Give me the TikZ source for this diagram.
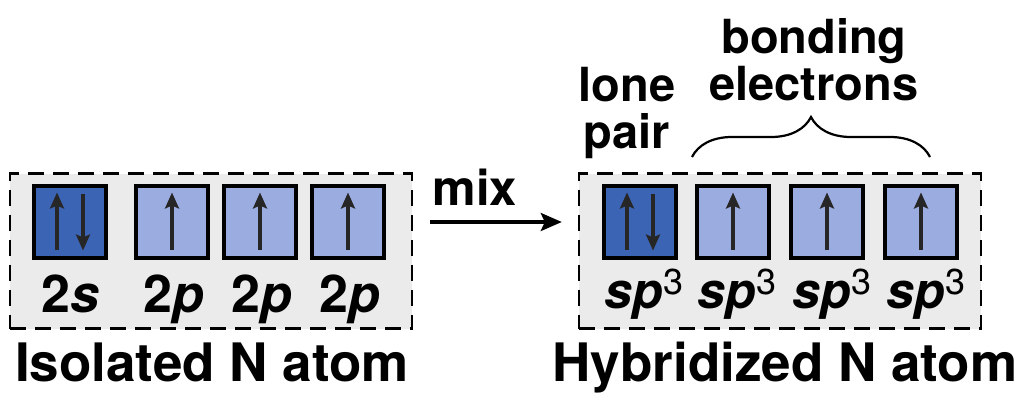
\documentclass[tikz,border=0pt]{standalone}
\usepackage{fontspec}
\setmainfont{TeX Gyre Heros}
\usetikzlibrary{arrows.meta,decorations.pathreplacing}

\definecolor{pairblue}{HTML}{3C64B4}
\definecolor{singleblue}{HTML}{9BACE0}
\definecolor{panelgray}{HTML}{EBEBEB}

\newcommand{\sphyb}{\textit{sp}\raisebox{14pt}{\fontsize{36}{36}\selectfont\mdseries\upshape 3}}

\begin{document}
\begin{tikzpicture}[x=1pt, y=-1pt
        , every node/.style={inner sep=0pt}
        , panel/.style={draw, dash pattern=on 16pt off 9pt, line width=2.4pt
            , fill=panelgray, minimum width=402pt, minimum height=155pt}
        , orbital/.style={draw, line width=4pt, minimum size=72pt, fill=singleblue}
        , spin/.style={line width=3.2pt, draw=black!85, -{Stealth[length=16pt,width=14pt,inset=3pt]}}
        , orblabel/.style={anchor=base, font=\fontsize{52}{52}\selectfont\bfseries}
        , toplabel/.style={anchor=base, font=\fontsize{47}{47}\selectfont\bfseries}
        , atomlabel/.style={anchor=base, font=\fontsize{53}{53}\selectfont\bfseries}
    ]
    \useasboundingbox (0,0) rectangle (1024,393);

    %% the two dashed panels
    \node[panel] (iso) at (211,251) {};
    \node[panel] (hyb) at (780,251) {};

    % isolated atom: 2s and three 2p
    \node[orbital, fill=pairblue] (s) at (70,221.5) {};
    \foreach \n/\x in {a/172, b/260, c/348}
        \node[orbital] (p\n) at (\x,221.5) {};

    % hybridized atom: four sp3
    \node[orbital, fill=pairblue] (ha) at (640,221.5) {};
    \foreach \n/\x in {b/733, c/827, d/921}
        \node[orbital] (h\n) at (\x,221.5) {};

    %% electrons
    \draw[spin] ([xshift=-13pt]s.center) ++(0,28) -- ++(0,-57);
    \draw[spin] ([xshift=13pt]s.center) ++(0,-28) -- ++(0,57);
    \draw[spin] ([xshift=-13pt]ha.center) ++(0,28) -- ++(0,-57);
    \draw[spin] ([xshift=13pt]ha.center) ++(0,-28) -- ++(0,57);
    \foreach \o in {pa, pb, pc, hb, hc, hd}
        \draw[spin] (\o.center) ++(0,28) -- ++(0,-57);

    %% orbital names
    \node[orblabel] (l2s) at (70,312) {2\textit{s}};
    \node[orblabel] (l2pa) at (174,312) {2\textit{p}};
    \node[orblabel] (l2pb) at (262,312) {2\textit{p}};
    \node[orblabel] (l2pc) at (350,312) {2\textit{p}};

    \node[orblabel, font=\fontsize{50}{50}\selectfont\bfseries] (lha) at (644,308) {\sphyb};
    \node[orblabel, font=\fontsize{50}{50}\selectfont\bfseries] (lhb) at (737,308) {\sphyb};
    \node[orblabel, font=\fontsize{50}{50}\selectfont\bfseries] (lhc) at (832,308) {\sphyb};
    \node[orblabel, font=\fontsize{50}{50}\selectfont\bfseries] (lhd) at (926,308) {\sphyb};

    % mixing step
    \node[toplabel, font=\fontsize{49}{49}\selectfont\bfseries] (mix) at (475,205) {mix};
    \draw[line width=3.2pt, -{Stealth[length=21pt,width=18pt,inset=4pt]}
        , shorten <=17pt, shorten >=16pt]
        ([yshift=29pt]iso.east) -- ([yshift=29pt]hyb.west);

    %% captions above
    \node[toplabel] (lone) at (627,102) {lone};
    \node[toplabel] (pair) at (627,148) {pair};
    \node[toplabel] (bond) at (814,54) {bonding};
    \node[toplabel] (elec) at (814,100) {electrons};

    \coordinate (braceA) at (692,157);
    \coordinate (braceB) at (930,157);
    \draw[decorate, decoration={brace, amplitude=40pt}, line width=2.2pt]
        (braceA) -- (braceB);

    % atom names
    \node[atomlabel] (isoname) at (212,381) {Isolated N atom};
    \node[atomlabel] (hybname) at (785,381) {Hybridized N atom};
\end{tikzpicture}
\end{document}
